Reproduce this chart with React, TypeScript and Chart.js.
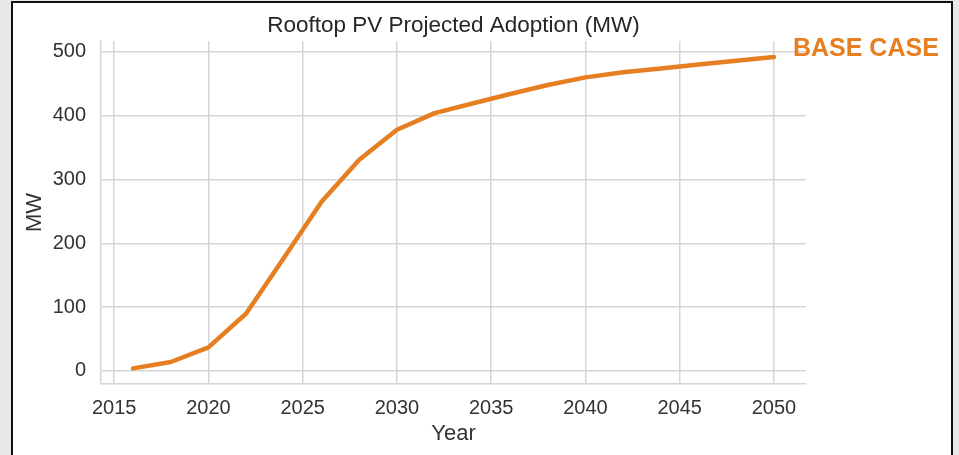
import { useEffect, useRef } from "react";
import { Chart, registerables } from "chart.js";

Chart.register(...registerables);

const years = [2016, 2018, 2020, 2022, 2024, 2026, 2028, 2030, 2032, 2034, 2036, 2038, 2040, 2042, 2044, 2046, 2048, 2050];
const adoptionMW = [4, 14, 37, 90, 177, 265, 331, 378, 404, 419, 434, 448, 460, 468, 474, 480, 486, 492];
const xTickValues = [2015, 2020, 2025, 2030, 2035, 2040, 2045, 2050];
const yTickValues = [0, 100, 200, 300, 400, 500];

const chartTitle = "Rooftop PV Projected Adoption (MW)";
const seriesLabel = "BASE CASE";
const xAxisTitle = "Year";
const yAxisTitle = "MW";

const FONT = "'Liberation Sans', Arial, Helvetica, sans-serif";
const ORANGE = "#e67e22";
const GRID = "#d6d6d6";
const TEXT = "#333333";

export default function App() {
  const ref = useRef<HTMLCanvasElement | null>(null);

  useEffect(() => {
    if (!ref.current) return;
    const endLabel = {
      id: "endLabel",
      afterDatasetsDraw(chart: any) {
        const meta = chart.getDatasetMeta(0);
        const last = meta.data[meta.data.length - 1];
        const ctx = chart.ctx;
        ctx.save();
        ctx.font = `bold 25px ${FONT}`;
        ctx.fillStyle = ORANGE;
        ctx.textAlign = "left";
        ctx.textBaseline = "middle";
        ctx.fillText(seriesLabel, last.x + 19, last.y - 8);
        ctx.restore();
      },
    };

    const chart = new Chart(ref.current, {
      type: "line",
      data: {
        datasets: [
          {
            label: seriesLabel,
            data: years.map((y, i) => ({ x: y, y: adoptionMW[i] })),
            borderColor: ORANGE,
            backgroundColor: ORANGE,
            borderWidth: 4.5,
            pointRadius: 0,
            tension: 0,
            fill: false,
            borderCapStyle: "round",
            borderJoinStyle: "round",
          },
        ],
      },
      options: {
        responsive: false,
        animation: false,
        layout: { padding: { left: 0, right: 153, top: 0, bottom: 0 } },
        plugins: {
          legend: { display: false },
          tooltip: { enabled: false },
          title: {
            display: true,
            text: chartTitle,
            fullSize: false,
            color: "#262626",
            font: { family: FONT, size: 22.5, weight: "normal" },
            padding: { top: 12.5, bottom: 1.5 },
          },
        },
        scales: {
          x: {
            type: "linear",
            min: 2014.3,
            max: 2051.7,
            afterBuildTicks: (s: any) => {
              s.ticks = xTickValues.map((v) => ({ value: v }));
            },
            afterFit: (s: any) => {
              s.height = 71;
            },
            ticks: {
              padding: 12,
              color: TEXT,
              font: { family: FONT, size: 20 },
              callback: (v: any) => String(v),
              maxRotation: 0,
            },
            grid: { color: GRID, lineWidth: 1.5, drawTicks: false },
            border: { color: GRID, width: 1.5 },
            title: {
              display: true,
              text: xAxisTitle,
              color: TEXT,
              font: { family: FONT, size: 22 },
              padding: { top: 0, bottom: 8 },
            },
          },
          y: {
            type: "linear",
            min: -20.5,
            max: 517,
            afterBuildTicks: (s: any) => {
              s.ticks = yTickValues.map((v) => ({ value: v }));
            },
            afterFit: (s: any) => {
              s.width = 101;
            },
            ticks: {
              padding: 15,
              color: TEXT,
              font: { family: FONT, size: 20 },
              callback: (v: any) => String(v),
            },
            grid: { color: GRID, lineWidth: 1.5, drawTicks: false },
            border: { color: GRID, width: 1.5 },
            title: {
              display: true,
              text: yAxisTitle,
              color: TEXT,
              font: { family: FONT, size: 22 },
              padding: { top: 22, bottom: 0 },
            },
          },
        },
      },
      plugins: [endLabel],
    } as any);

    return () => chart.destroy();
  }, []);

  return (
    <div style={{ position: "fixed", left: 0, top: 0, width: 959, height: 455, background: "#e8e8e8", overflow: "hidden" }}>
      <div
        style={{
          position: "absolute",
          left: 11,
          top: 1,
          width: 942,
          height: 520,
          border: "2px solid #111",
          boxSizing: "border-box",
          background: "#ffffff",
        }}
      />
      <canvas
        ref={ref}
        width={959}
        height={455}
        style={{ position: "absolute", left: 0, top: 0, width: 959, height: 455 }}
      />
    </div>
  );
}
